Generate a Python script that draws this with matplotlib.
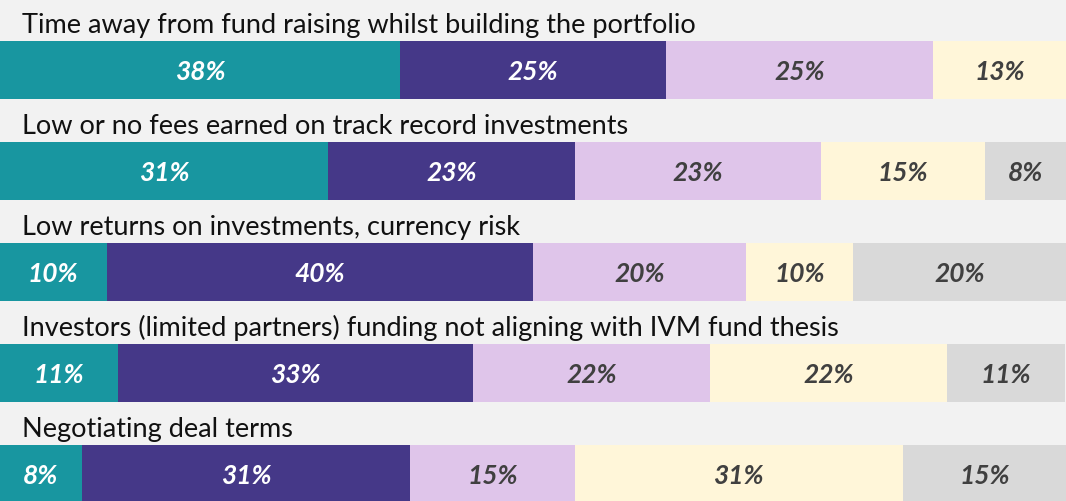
import matplotlib.pyplot as plt

# questions (row titles), top to bottom
titles = [
    'Time away from fund raising whilst building the portfolio',
    'Low or no fees earned on track record investments',
    'Low returns on investments, currency risk',
    'Investors (limited partners) funding not aligning with IVM fund thesis',
    'Negotiating deal terms',
]

# segment shares (%) per row
shares = [
    [37.5, 25.0, 25.0, 12.5],
    [30.8, 23.1, 23.1, 15.4, 7.7],
    [10.0, 40.0, 20.0, 10.0, 20.0],
    [11.1, 33.3, 22.2, 22.2, 11.1],
    [7.7, 30.8, 15.4, 30.8, 15.4],
]

# printed labels
labels = [
    ['38%', '25%', '25%', '13%'],
    ['31%', '23%', '23%', '15%', '8%'],
    ['10%', '40%', '20%', '10%', '20%'],
    ['11%', '33%', '22%', '22%', '11%'],
    ['8%', '31%', '15%', '31%', '15%'],
]

colors = ['#1896a0', '#453888', '#dfc5ea', '#fff6d9', '#d9d9d9']
text_colors = ['white', 'white', '#404040', '#404040', '#404040']

fig = plt.figure(figsize=(10.66, 5.02), dpi=100, facecolor='#f2f2f2')
ax = fig.add_axes([0, 0, 1, 1])
ax.set_facecolor('#f2f2f2')
ax.set_xlim(0, 100)
ax.set_ylim(502, 0)
ax.axis('off')

pitch = 101
bar_h = 58
for i, (title, row, lab) in enumerate(zip(titles, shares, labels)):
    y = 71 + i * pitch
    left = 0
    for j, (v, t) in enumerate(zip(row, lab)):
        ax.barh(y, v, left=left, height=bar_h, color=colors[j], linewidth=0)
        ax.text(left + v / 2, y + 1, t, ha='center', va='center',
                color=text_colors[j], fontsize=19, fontweight='bold',
                fontstyle='italic', family='Lato')
        left += v
    ax.text(2.05, y - bar_h / 2 - 9, title, ha='left', va='baseline',
            fontsize=19.5, color='#111111', family='Lato')

fig.savefig('out.png', dpi=100, facecolor=fig.get_facecolor())
